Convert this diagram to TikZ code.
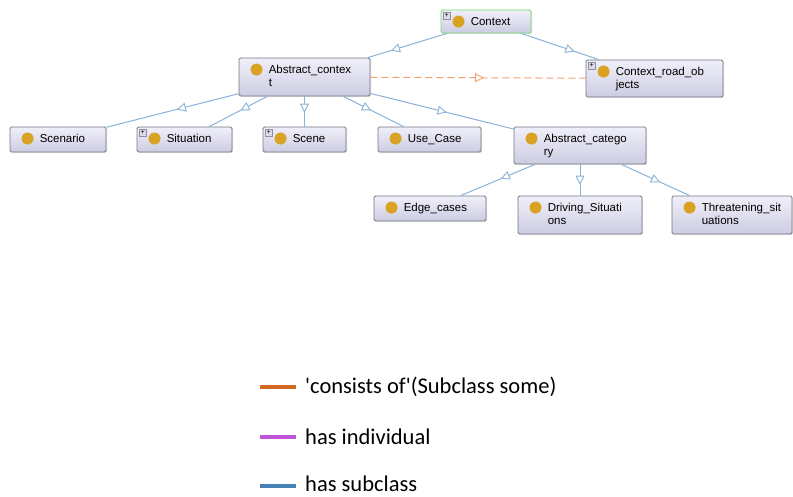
\documentclass[tikz,border=0pt]{standalone}
\usepackage{fontspec}
\usepackage{tikz}
\usetikzlibrary{arrows.meta, decorations.markings, shadows}
\newfontfamily\knotenfont{Liberation Sans}
\newfontfamily\legendenfont{Carlito}
\definecolor{boxoben}{RGB}{240, 240, 250}
\definecolor{boxunten}{RGB}{204, 204, 226}
\definecolor{boxrand}{RGB}{118, 118, 132}
\definecolor{gruenrand}{RGB}{110, 220, 110}
\definecolor{punktgold}{RGB}{218, 162, 34}
\definecolor{kantenblau}{RGB}{138, 178, 218}
\definecolor{kantenorange}{RGB}{242, 162, 112}
\definecolor{legorange}{RGB}{210, 105, 35}
\definecolor{leglila}{RGB}{190, 85, 215}
\definecolor{legblau}{RGB}{70, 130, 180}
\tikzset{
  klasse/.style={draw=boxrand, line width=0.9pt, rounded corners=1.5pt, top color=boxoben, bottom color=boxunten, inner sep=0pt, drop shadow={shadow xshift=1pt, shadow yshift=-1pt, opacity=0.25}},
  punkt/.style={circle, fill=punktgold, minimum size=12pt, inner sep=0pt},
  etikett/.style={anchor=north west, align=left, inner sep=0pt, font=\knotenfont\fontsize{11.5}{13}\selectfont},
  plusbox/.style={draw=boxrand!80, fill=boxunten!70, line width=0.5pt, minimum size=7pt, inner sep=0pt, font=\knotenfont\fontsize{7}{7}\selectfont},
  kante/.style={color=kantenblau, line width=1pt},
  teilvon/.style={color=kantenorange, line width=1pt, dash pattern=on 7pt off 4pt},
  mitte/.style={postaction={decorate}, decoration={markings, mark=at position 0.5 with {\arrow[xshift=4.5pt]{Triangle[length=9pt, width=9pt, fill=white, line width=0.9pt]}}}},
  legende/.style={line width=4pt},
  legtext/.style={anchor=base west, inner sep=0pt, font=\legendenfont\fontsize{22.5}{24}\selectfont}
}
\begin{document}
\begin{tikzpicture}[x=1pt, y=-1pt]
		\useasboundingbox (0,0) rectangle (793,497);
		
		% --- HILFSFUNKTIONEN ---
		\newcommand{\klasse}[7][]{ % #1:Extra, #2:Name, #3:x, #4:y, #5:Breite, #6:Hoehe, #7:Text
			\node[klasse, #1, minimum width=#5pt, minimum height=#6pt] (#2) at (#3,#4) {};
			\node[punkt] (#2-punkt) at ([xshift=18pt, yshift=-12pt]#2.north west) {};
			\node[etikett] (#2-text) at ([xshift=30pt, yshift=-7.5pt]#2.north west) {#7};
		}
		\newcommand{\plus}[1]{ % #1:Name
			\node[plusbox] (#1-plus) at ([xshift=6pt, yshift=-6pt]#1.north west) {+};
		}
		\newcommand{\kante}[3]{ % #1:von, #2:nach, #3:Stil
			\draw[#3] (#1) -- (#2);
			\path[#3, solid, mitte] (#1.center) -- (#2.center);
		}
		
		% --- KLASSEN ---
		\klasse[draw=gruenrand]{context}{486}{21.5}{90}{23}{Context}
		\klasse{abstractcontext}{304.5}{77}{131}{38}{Abstract\_contex\\t}
		\klasse{roadobjects}{654.5}{78.5}{137}{37}{Context\_road\_ob\\jects}
		\klasse{scenario}{58}{139.5}{96}{25}{Scenario}
		\klasse{situation}{184.5}{139.5}{95}{25}{Situation}
		\klasse{scene}{304.5}{139.5}{83}{25}{Scene}
		\klasse{usecase}{429.5}{139.5}{103}{25}{Use\_Case}
		\klasse{abstractcategory}{580}{145.5}{132}{37}{Abstract\_catego\\ry}
		\klasse{edgecases}{430}{208.5}{112}{25}{Edge\_cases}
		\klasse{driving}{580}{215}{124}{38}{Driving\_Situati\\ons}
		\klasse{threatening}{732}{215}{120}{38}{Threatening\_sit\\uations}
		\plus{context}
		\plus{roadobjects}
		\plus{situation}
		\plus{scene}
		
		% --- KANTEN ---
		\kante{context}{abstractcontext}{kante}
		\kante{context}{roadobjects}{kante}
		\kante{abstractcontext}{roadobjects}{teilvon}
		\kante{abstractcontext}{scenario}{kante}
		\kante{abstractcontext}{situation}{kante}
		\kante{abstractcontext}{scene}{kante}
		\kante{abstractcontext}{usecase}{kante}
		\kante{abstractcontext}{abstractcategory}{kante}
		\kante{abstractcategory}{edgecases}{kante}
		\kante{abstractcategory}{driving}{kante}
		\kante{abstractcategory}{threatening}{kante}
		
		% --- LEGENDE ---
		\coordinate (l1a) at (260,387); \coordinate (l1b) at (296,387);
		\coordinate (l2a) at (260,437); \coordinate (l2b) at (296,437);
		\coordinate (l3a) at (260,486); \coordinate (l3b) at (296,486);
		\draw[legende, legorange] (l1a) -- (l1b);
		\draw[legende, leglila] (l2a) -- (l2b);
		\draw[legende, legblau] (l3a) -- (l3b);
		\node[legtext] (lt1) at (305,393.5) {\textquotesingle consists of\textquotesingle(Subclass some)};
		\node[legtext] (lt2) at (305,444) {has individual};
		\node[legtext] (lt3) at (305,491.5) {has subclass};
		
	\end{tikzpicture}
\end{document}
